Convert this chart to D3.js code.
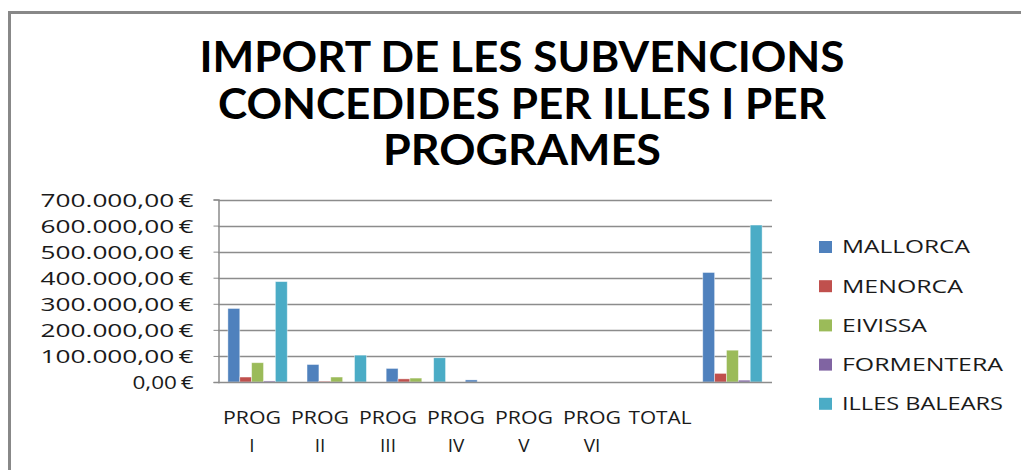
<!DOCTYPE html>
<html><head><meta charset="utf-8">
<script src="https://cdn.jsdelivr.net/npm/d3@7"></script>
<style>body{margin:0;background:#fff}svg{display:block}</style>
</head><body>
<svg id="c" width="1021" height="470"></svg>
<script>
const categories = ["PROG I","PROG II","PROG III","PROG IV","PROG V","PROG VI","TOTAL"];
const seriesNames = ["MALLORCA","MENORCA","EIVISSA","FORMENTERA","ILLES BALEARS"];
const mallorca   = [282000, 67000, 52000, 8000, 0, 0, 420000];
const menorca    = [19000, 3000, 12000, 0, 0, 0, 33000];
const eivissa    = [74000, 19000, 15000, 0, 0, 0, 122000];
const formentera = [4000, 0, 0, 0, 0, 0, 7000];
const illes      = [385000, 103000, 93000, 0, 0, 0, 602000];
const yTicks = [0,100000,200000,300000,400000,500000,600000,700000];
const titleLines = ["IMPORT DE LES SUBVENCIONS","CONCEDIDES PER ILLES I PER","PROGRAMES"];
const colors = ["#4F81BD","#C0504D","#9BBB59","#8064A2","#4BACC6"];

const values = [mallorca, menorca, eivissa, formentera, illes];
const svg = d3.select("#c");

// frame
svg.append("path").attr("d","M9.5,1000 L9.5,12.5 L1030,12.5")
  .attr("fill","none").attr("stroke","#888").attr("stroke-width",3);

// title
const tl = [{y:72,w:645},{y:119,w:608},{y:165,w:278}];
svg.selectAll("text.title").data(titleLines).join("text").attr("class","title")
  .attr("x",522).attr("y",(d,i)=>tl[i].y).attr("text-anchor","middle")
  .attr("font-family","Lato, 'Open Sans', sans-serif").attr("font-weight","bold")
  .attr("font-size",42).attr("fill","#000")
  .attr("textLength",(d,i)=>tl[i].w).attr("lengthAdjust","spacingAndGlyphs")
  .text(d=>d);

const x0 = d3.scaleBand().domain(categories).range([218,772]).paddingInner(0.25).paddingOuter(0.125);
const x1 = d3.scaleBand().domain(seriesNames).range([0,x0.bandwidth()]);
const xLab = d3.scaleBand().domain(categories).range([218,694]);
const y = d3.scaleLinear().domain([0,700000]).range([382,199.5]);

// gridlines
svg.append("g").selectAll("line").data(yTicks.filter(d=>d>0)).join("line")
  .attr("x1",218).attr("x2",772).attr("y1",d=>Math.round(y(d))+0.5).attr("y2",d=>Math.round(y(d))+0.5)
  .attr("stroke","#8c8c8c").attr("stroke-width",1.3);

// y axis
const fmt = v => d3.format(",.2f")(v).replace(/,/g,"#").replace(/\./g,",").replace(/#/g,".") + "\u2009€";
const ya = svg.append("g").attr("transform","translate(218.5,0)")
  .call(d3.axisLeft(y).tickValues(yTicks).tickSize(5).tickPadding(20).tickFormat(fmt));
ya.select(".domain").attr("stroke","#8c8c8c").attr("stroke-width",1.5);
ya.selectAll(".tick line").attr("stroke","#8c8c8c");
ya.selectAll(".tick text").attr("font-family","'Open Sans', sans-serif").attr("font-size",18.5)
  .attr("fill","#1a1a1a").attr("dy","0.36em")
  .attr("textLength",d=>d===0?61:153).attr("lengthAdjust","spacingAndGlyphs");

// bars
const groups = svg.append("g").selectAll("g").data(categories).join("g")
  .attr("transform",d=>`translate(${x0(d)},0)`);
groups.selectAll("rect").data((c,ci)=>seriesNames.map((s,si)=>({s,si,v:values[si][ci]})))
  .join("rect")
  .attr("x",d=>x1(d.s)).attr("width",x1.bandwidth())
  .attr("y",d=>y(d.v)).attr("height",d=>y(0)-y(d.v))
  .attr("fill",d=>colors[d.si]).attr("stroke","rgba(255,255,255,0.5)").attr("stroke-width",0.8);

// x axis baseline
svg.append("line").attr("x1",218).attr("x2",772).attr("y1",382.5).attr("y2",382.5)
  .attr("stroke","#8c8c8c").attr("stroke-width",1.5);

// x labels
const xl = svg.append("g").selectAll("text").data(categories).join("text")
  .attr("x",d=>xLab(d)+xLab.bandwidth()/2).attr("y",424).attr("text-anchor","middle")
  .attr("font-family","'Open Sans', sans-serif").attr("font-size",19).attr("fill","#1a1a1a");
xl.each(function(d){
  const parts = d.split(" ");
  const t = d3.select(this);
  t.append("tspan").attr("x",xLab(d)+xLab.bandwidth()/2).text(parts[0])
    .attr("textLength", parts[0]==="TOTAL"?63:58).attr("lengthAdjust","spacingAndGlyphs");
  if (parts[1]) t.append("tspan").attr("x",xLab(d)+xLab.bandwidth()/2).attr("dy",28).text(parts[1]);
});

// legend
const lw = [128,121,85,161,161];
const lg = svg.append("g").selectAll("g").data(seriesNames).join("g")
  .attr("transform",(d,i)=>`translate(819,${247+i*39.2})`);
lg.append("rect").attr("x",0).attr("y",-6).attr("width",13).attr("height",12).attr("fill",(d,i)=>colors[i]);
lg.append("text").attr("x",23).attr("y",0).attr("dy","0.36em")
  .attr("font-family","'Open Sans', sans-serif").attr("font-size",18).attr("fill","#1a1a1a")
  .attr("textLength",(d,i)=>lw[i]).attr("lengthAdjust","spacingAndGlyphs").text(d=>d);
</script>
</body></html>
